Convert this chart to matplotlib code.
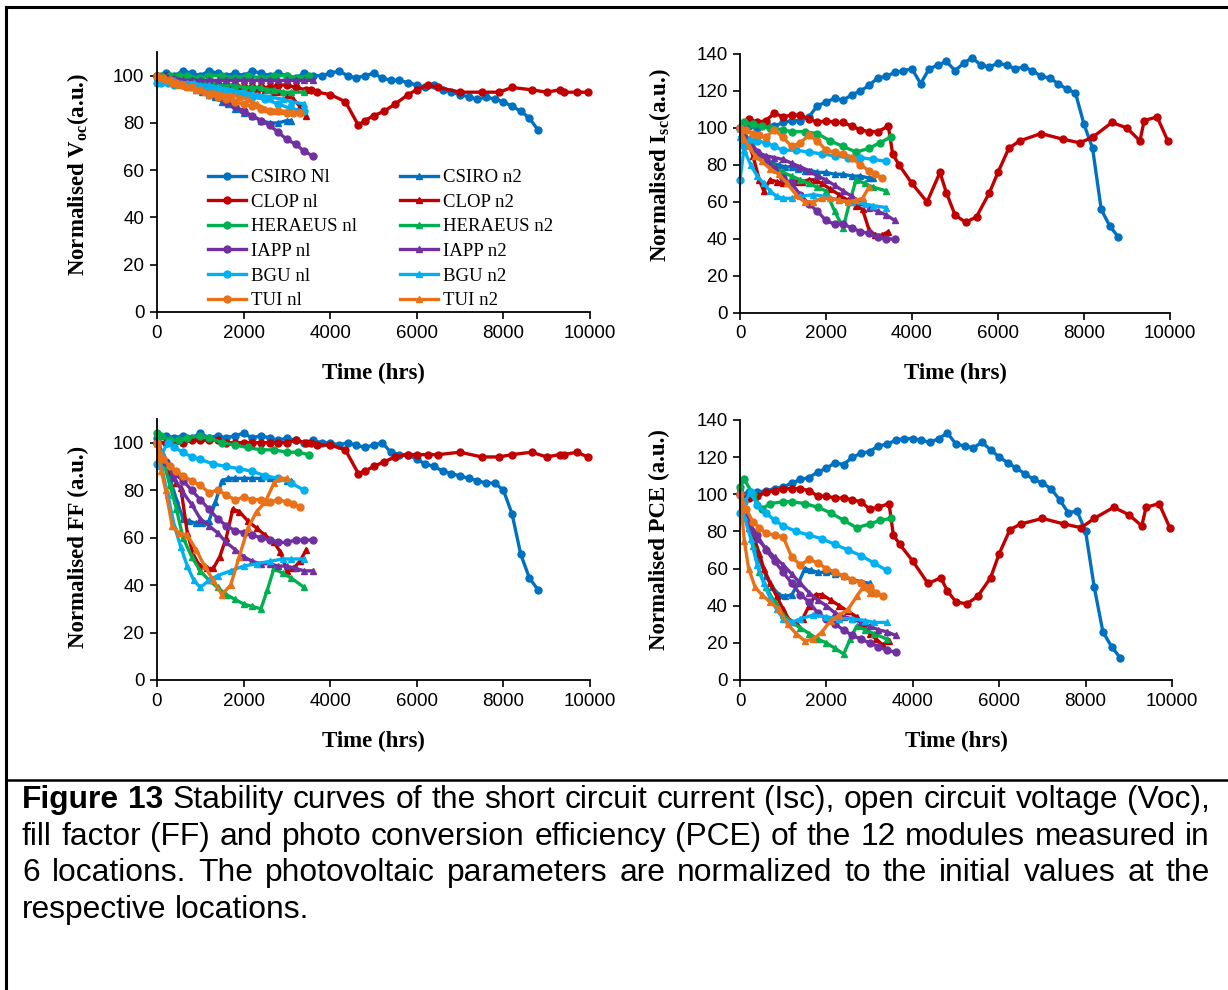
import matplotlib
matplotlib.use('Agg')
import matplotlib.pyplot as plt
from matplotlib.lines import Line2D

plt.rcParams['mathtext.fontset'] = 'custom'
plt.rcParams['mathtext.rm'] = 'Liberation Serif'
plt.rcParams['mathtext.bf'] = 'Liberation Serif:bold'

# ---- modules (legend order) ----
modules = ['CSIRO', 'CLOP', 'HERAEUS', 'IAPP', 'BGU', 'TUI']
colors = ['#0070C0', '#C00000', '#00B050', '#7030A0', '#00B0F0', '#E8711A']
labels_n1 = ['CSIRO Nl', 'CLOP nl', 'HERAEUS nl', 'IAPP nl', 'BGU nl', 'TUI nl']
labels_n2 = ['CSIRO n2', 'CLOP n2', 'HERAEUS n2', 'IAPP n2', 'BGU n2', 'TUI n2']

# ---- measurement times (hrs) ----
t_csiro_n1 = [0, 200, 400, 600, 800, 1000, 1200, 1400, 1600, 1800,
              2000, 2200, 2400, 2600, 2800, 3000, 3200, 3400, 3600, 3800,
              4000, 4200, 4400, 4600, 4800, 5000, 5200, 5400, 5600, 5800,
              6000, 6200, 6400, 6600, 6800, 7000, 7200, 7400, 7600, 7800,
              8000, 8200, 8400, 8600, 8800]
t_csiro_n2 = [0, 150, 300, 450, 600, 750, 900, 1050, 1200, 1350,
              1500, 1650, 1800, 2000, 2200, 2400, 2600, 2800, 3000, 3100]
t_clop_n1 = [0, 200, 400, 600, 800, 1000, 1200, 1400, 1600, 1800,
             2000, 2200, 2400, 2600, 2800, 3000, 3200, 3450, 3550, 3700,
             4000, 4350, 4650, 4800, 5000, 5250, 5500, 5800, 6000, 6250,
             6500, 7000, 7500, 7900, 8200, 8650, 9000, 9300, 9400, 9700,
             9950]
t_clop_n2 = [0, 150, 300, 450, 550, 700, 850, 1000, 1150, 1300, 1450, 1600,
             1750, 1900, 2100, 2300, 2500, 2700, 2850, 3000, 3150, 3300, 3450]
t_her_n1 = [0, 100, 300, 500, 700, 1000, 1200, 1500, 1800, 2100, 2400, 2700,
            3000, 3250, 3500]
t_her_n2 = [0, 150, 300, 450, 600, 800, 1000, 1200, 1400, 1600, 1800, 2000,
            2200, 2400, 2550, 2700, 2900, 3100, 3400]
t_iapp_n1 = [0, 200, 400, 600, 800, 1000, 1200, 1400, 1600, 1800, 2000, 2200,
             2400, 2600, 2800, 3000, 3200, 3400, 3600]
t_iapp_n2 = [0, 200, 400, 600, 800, 1000, 1200, 1400, 1600, 1800, 2000, 2200,
             2400, 2600, 2800, 3000, 3200, 3400, 3600]
t_bgu_n1 = [0, 100, 250, 400, 600, 800, 1000, 1300, 1600, 1900, 2200, 2500,
            2800, 3100, 3400]
t_bgu_n2 = [0, 100, 250, 400, 550, 700, 850, 1000, 1200, 1400, 1700, 2000,
            2300, 2600, 2900, 3100, 3400]
t_tui_n1 = [0, 150, 300, 450, 600, 800, 1000, 1200, 1400, 1600, 1800, 2000,
            2200, 2400, 2600, 2800, 3000, 3150, 3300]
t_tui_n2 = [0, 100, 200, 350, 500, 700, 900, 1100, 1300, 1500, 1700, 1900,
            2100, 2300, 2500, 2700, 2850, 3000]

# ---- normalised Voc ----
voc_csiro_n1 = [100, 101, 100, 102, 101, 100, 102, 101, 100, 101,
                100, 102, 101, 100, 101, 100, 99, 101, 100, 100,
                101, 102, 100, 99, 100, 101, 99, 98, 98, 97,
                96, 95, 96, 94, 93, 92, 91, 90, 91, 90,
                89, 87, 85, 82, 77]
voc_csiro_n2 = [100, 99, 98, 97, 96, 95, 94, 93, 92, 91, 89, 88, 86, 84, 83, 81, 80, 80, 81, 81]
voc_clop_n1 = [100, 100, 99, 99, 98, 97, 97, 96, 96, 96,
               95, 95, 95, 95, 96, 96, 95, 94, 94, 93,
               92, 89, 79, 81, 83, 85, 88, 92, 94, 96,
               95, 93, 93, 93, 95, 94, 93, 94, 93, 93,
               93]
voc_clop_n2 = [100, 99, 98, 98, 97, 97, 96, 96, 96, 96, 95, 95, 95, 95, 94, 94, 94, 93, 93, 92, 90, 87, 83]
voc_her_n1 = [100, 100, 100, 100, 100, 99, 100, 100, 99, 100, 99, 100, 100, 99, 100]
voc_her_n2 = [100, 99, 99, 98, 98, 97, 97, 97, 96, 96, 96, 95, 95, 95, 94, 94, 93, 93, 93]
voc_iapp_n1 = [100, 99, 98, 97, 96, 95, 93, 91, 89, 87, 85, 83, 81, 79, 76, 73, 71, 68, 66]
voc_iapp_n2 = [100, 99, 99, 98, 98, 98, 98, 98, 98, 98, 98, 98, 98, 98, 98, 98, 98, 98, 98]
voc_bgu_n1 = [97, 97, 97, 96, 96, 96, 95, 94, 93, 92, 91, 90, 88, 86, 85]
voc_bgu_n2 = [99, 99, 98, 98, 97, 97, 97, 96, 96, 95, 94, 93, 92, 91, 90, 89, 88]
voc_tui_n1 = [100, 99, 98, 97, 96, 95, 94, 92, 91, 90, 89, 88, 87, 86, 85, 85, 84, 84, 84]
voc_tui_n2 = [100, 99, 98, 97, 96, 95, 94, 93, 93, 92, 92, 91, 90, 88, 86, 85, 85, 85]

# ---- normalised Isc ----
isc_csiro_n1 = [100, 101, 100, 102, 101, 103, 104, 104, 106, 112,
                114, 116, 115, 118, 120, 123, 127, 128, 130, 131,
                132, 124, 132, 134, 136, 131, 135, 138, 134, 133,
                135, 134, 132, 133, 131, 128, 127, 124, 121, 119,
                102, 89, 56, 47, 41]
isc_csiro_n2 = [100, 95, 90, 86, 83, 81, 80, 79, 79, 78, 77, 77, 76, 76, 75, 75, 74, 74, 73, 73]
isc_clop_n1 = [100, 105, 103, 104, 108, 106, 107, 107, 105, 103,
               104, 103, 103, 101, 99, 98, 98, 101, 86, 80,
               70, 60, 76, 65, 53, 49, 52, 65, 76, 89,
               93, 97, 94, 92, 95, 103, 100, 93, 104, 106,
               93]
isc_clop_n2 = [100, 95, 85, 72, 66, 72, 71, 70, 70, 71, 71, 72, 72, 70, 67, 64, 61, 58, 56, 45, 42, 42, 44]
isc_her_n1 = [100, 103, 102, 101, 100, 99, 98, 98, 97, 93, 90, 87, 89, 92, 95]
isc_her_n2 = [100, 95, 90, 85, 82, 79, 76, 74, 72, 70, 68, 66, 55, 46, 60, 72, 70, 68, 66]
isc_iapp_n1 = [100, 93, 87, 83, 78, 73, 70, 64, 59, 55, 50, 48, 48, 46, 44, 43, 41, 40, 40]
isc_iapp_n2 = [100, 92, 87, 85, 84, 83, 81, 79, 77, 74, 72, 69, 66, 63, 60, 57, 55, 53, 50]
isc_bgu_n1 = [72, 90, 94, 93, 92, 90, 88, 88, 87, 86, 85, 84, 84, 83, 82]
isc_bgu_n2 = [95, 88, 80, 74, 70, 66, 63, 62, 62, 63, 64, 63, 61, 60, 59, 58, 57]
isc_tui_n1 = [100, 99, 97, 96, 95, 99, 95, 90, 92, 96, 93, 88, 87, 86, 84, 80, 77, 75, 73]
isc_tui_n2 = [100, 94, 90, 85, 82, 78, 75, 70, 64, 60, 60, 62, 62, 61, 60, 61, 62, 68]

# ---- normalised FF ----
ff_csiro_n1 = [102, 103, 102, 103, 102, 104, 102, 103, 102, 103,
               104, 102, 103, 102, 101, 102, 101, 100, 101, 100,
               100, 99, 100, 99, 98, 99, 100, 96, 95, 95,
               93, 91, 90, 88, 87, 86, 85, 84, 83, 83,
               80, 70, 53, 43, 38]
ff_csiro_n2 = [100, 92, 85, 76, 68, 67, 66, 66, 67, 75, 84, 85, 85, 85, 85, 85, 85, 85, 84, 84]
ff_clop_n1 = [100, 100, 100, 100, 101, 101, 101, 101, 100, 100,
              100, 100, 100, 100, 100, 100, 101, 100, 100, 99,
              99, 97, 87, 88, 90, 92, 94, 95, 95, 95,
              95, 96, 94, 94, 95, 96, 94, 95, 95, 96,
              94]
ff_clop_n2 = [100, 95, 88, 83, 81, 62, 52, 48, 47, 47, 52, 60, 72, 71, 67, 64, 61, 58, 54, 46, 47, 50, 55]
ff_her_n1 = [104, 103, 101, 101, 102, 103, 102, 100, 99, 98, 97, 97, 96, 96, 95]
ff_her_n2 = [104, 92, 82, 72, 60, 52, 46, 42, 39, 36, 34, 32, 31, 30, 38, 47, 45, 43, 39]
ff_iapp_n1 = [100, 92, 87, 84, 80, 76, 72, 68, 65, 63, 62, 61, 60, 59, 58, 58, 59, 59, 59]
ff_iapp_n2 = [100, 92, 85, 79, 74, 68, 65, 62, 58, 55, 52, 50, 49, 49, 48, 48, 47, 46, 46]
ff_bgu_n1 = [91, 95, 100, 98, 96, 94, 93, 91, 90, 89, 88, 86, 85, 83, 80]
ff_bgu_n2 = [100, 90, 78, 65, 56, 48, 42, 39, 42, 44, 46, 48, 49, 50, 51, 51, 51]
ff_tui_n1 = [100, 93, 90, 88, 86, 84, 82, 79, 80, 78, 76, 77, 76, 76, 75, 76, 75, 74, 73]
ff_tui_n2 = [100, 88, 80, 65, 62, 61, 55, 48, 42, 36, 40, 52, 64, 71, 75, 83, 85, 85]

# ---- normalised PCE ----
pce_csiro_n1 = [100, 101, 101, 102, 103, 104, 106, 108, 109, 112,
                114, 117, 116, 120, 122, 123, 126, 127, 129, 130,
                130, 129, 128, 130, 133, 127, 126, 125, 128, 124,
                120, 117, 114, 111, 108, 106, 103, 97, 90, 91,
                80, 50, 26, 18, 12]
pce_csiro_n2 = [100, 88, 76, 65, 56, 50, 46, 45, 46, 52, 60, 59, 58, 58, 57, 56, 54, 53, 52, 47]
pce_clop_n1 = [100, 98, 99, 101, 102, 103, 103, 103, 102, 99,
               99, 98, 98, 97, 96, 92, 93, 95, 78, 73,
               64, 52, 55, 48, 42, 41, 45, 55, 68, 81,
               84, 87, 84, 82, 87, 93, 89, 83, 93, 95,
               82]
pce_clop_n2 = [100, 90, 78, 68, 60, 52, 45, 38, 32, 31, 33, 40, 46, 46, 43, 40, 37, 34, 30, 25, 22, 19, 21]
pce_her_n1 = [104, 108, 100, 92, 95, 96, 96, 95, 93, 90, 86, 82, 84, 86, 87]
pce_her_n2 = [104, 88, 72, 58, 50, 42, 35, 31, 28, 25, 22, 20, 17, 14, 22, 29, 27, 25, 22]
pce_iapp_n1 = [100, 85, 78, 70, 64, 58, 52, 46, 42, 36, 33, 30, 27, 24, 22, 20, 18, 16, 15]
pce_iapp_n2 = [100, 82, 76, 71, 66, 62, 57, 52, 47, 43, 40, 36, 34, 33, 31, 29, 27, 26, 24]
pce_bgu_n1 = [90, 96, 101, 94, 90, 86, 83, 80, 78, 76, 73, 70, 67, 63, 59]
pce_bgu_n2 = [100, 88, 76, 62, 52, 44, 38, 33, 31, 33, 35, 34, 33, 33, 32, 31, 31]
pce_tui_n1 = [100, 92, 85, 82, 79, 78, 77, 66, 62, 65, 63, 60, 58, 56, 54, 52, 50, 47, 45]
pce_tui_n2 = [100, 75, 60, 50, 46, 42, 38, 30, 25, 21, 22, 26, 32, 35, 38, 45, 50, 47]

x_ticks = [0, 2000, 4000, 6000, 8000, 10000]

times_n1 = [t_csiro_n1, t_clop_n1, t_her_n1, t_iapp_n1, t_bgu_n1, t_tui_n1]
times_n2 = [t_csiro_n2, t_clop_n2, t_her_n2, t_iapp_n2, t_bgu_n2, t_tui_n2]

panels = [
    ('Normalised V$_{\\mathbf{oc}}$(a.u.)', 110, [0, 20, 40, 60, 80, 100],
     [voc_csiro_n1, voc_clop_n1, voc_her_n1, voc_iapp_n1, voc_bgu_n1, voc_tui_n1],
     [voc_csiro_n2, voc_clop_n2, voc_her_n2, voc_iapp_n2, voc_bgu_n2, voc_tui_n2]),
    ('Normalised I$_{\\mathbf{sc}}$(a.u.)', 140, [0, 20, 40, 60, 80, 100, 120, 140],
     [isc_csiro_n1, isc_clop_n1, isc_her_n1, isc_iapp_n1, isc_bgu_n1, isc_tui_n1],
     [isc_csiro_n2, isc_clop_n2, isc_her_n2, isc_iapp_n2, isc_bgu_n2, isc_tui_n2]),
    ('Normalised FF (a.u.)', 110, [0, 20, 40, 60, 80, 100],
     [ff_csiro_n1, ff_clop_n1, ff_her_n1, ff_iapp_n1, ff_bgu_n1, ff_tui_n1],
     [ff_csiro_n2, ff_clop_n2, ff_her_n2, ff_iapp_n2, ff_bgu_n2, ff_tui_n2]),
    ('Normalised PCE (a.u.)', 140, [0, 20, 40, 60, 80, 100, 120, 140],
     [pce_csiro_n1, pce_clop_n1, pce_her_n1, pce_iapp_n1, pce_bgu_n1, pce_tui_n1],
     [pce_csiro_n2, pce_clop_n2, pce_her_n2, pce_iapp_n2, pce_bgu_n2, pce_tui_n2]),
]

W, H = 1228, 990
fig = plt.figure(figsize=(W / 100, H / 100), dpi=100)

# axes rectangles in pixels: left, right, bottom, top
boxes = [(157, 590, 312, 52), (740, 1170, 313, 54),
         (157, 590, 680, 419), (740, 1172, 680, 420)]
ylab_x = [-0.182, -0.186, -0.182, -0.186]
ylab_y = [0.53, 0.57, 0.51, 0.54]

serif = 'Liberation Serif'
sans = 'Liberation Sans'

for k, (ylabel, ytop, yticks, vals_n1, vals_n2) in enumerate(panels):
    l, r, b, t = boxes[k]
    ax = fig.add_axes([l / W, 1 - b / H, (r - l) / W, (b - t) / H])
    handles_n1, handles_n2 = [], []
    for i in range(len(modules)):
        h1, = ax.plot(times_n1[i], vals_n1[i], color=colors[i], marker='o', ms=5,
                      lw=2.4, clip_on=False, label=labels_n1[i])
        h2, = ax.plot(times_n2[i], vals_n2[i], color=colors[i], marker='^', ms=5,
                      lw=2.4, clip_on=False, label=labels_n2[i])
        handles_n1.append(h1)
        handles_n2.append(h2)
    ax.set_xlim(0, 10000)
    ax.set_ylim(0, ytop)
    ax.set_xticks(x_ticks)
    ax.set_yticks(yticks)
    for s in ['top', 'right']:
        ax.spines[s].set_visible(False)
    for s in ['left', 'bottom']:
        ax.spines[s].set_linewidth(1.3)
    ax.tick_params(direction='out', length=5, width=1.2, labelsize=13.5, pad=4)
    for lab in ax.get_xticklabels() + ax.get_yticklabels():
        lab.set_family(sans)
    ax.set_xlabel('Time (hrs)', family=serif, fontweight='bold', fontsize=16.5)
    ax.xaxis.set_label_coords(0.5, -0.235)
    ax.xaxis.label.set_va('center')
    ax.set_ylabel(ylabel, family=serif, fontweight='bold', fontsize=16.5)
    ax.yaxis.set_label_coords(ylab_x[k], ylab_y[k])
    ax.yaxis.label.set_va('center')
    if k == 0:
        ax.legend(handles_n1 + handles_n2, labels_n1 + labels_n2, ncol=2,
                  loc='upper left', bbox_to_anchor=(0.118, 0.55), frameon=False,
                  prop={'family': serif, 'size': 13.5}, handlelength=2.0,
                  handletextpad=0.3, labelspacing=0.4, columnspacing=2.3,
                  borderpad=0, borderaxespad=0)

# frame lines around the figure block and separator above the caption
fig.add_artist(Line2D([6 / W, 1], [1 - 7 / H, 1 - 7 / H], color='black', lw=2.2,
                      transform=fig.transFigure))
fig.add_artist(Line2D([6 / W, 6 / W], [0, 1 - 7 / H], color='black', lw=2.2,
                      transform=fig.transFigure))
fig.add_artist(Line2D([6 / W, 1], [1 - 780 / H, 1 - 780 / H], color='black', lw=1.8,
                      transform=fig.transFigure))

# caption, justified like the source document
cap_lines = [
    [('Figure', 'bold'), ('13', 'bold')] + [(w, 'normal') for w in
        'Stability curves of the short circuit current (Isc), open circuit voltage (Voc),'.split()],
    [(w, 'normal') for w in
        'fill factor (FF) and photo conversion efficiency (PCE) of the 12 modules measured in'.split()],
    [(w, 'normal') for w in
        '6 locations. The photovoltaic parameters are normalized to the initial values at the'.split()],
    [(w, 'normal') for w in 'respective locations.'.split()],
]
cap_y = [800, 837, 873, 910]
x0, x1 = 22, 1210
renderer = fig.canvas.get_renderer()

# pick the caption size so that the first line fills the width with normal spaces
probe = 20
tmp = [fig.text(0, 0, w, fontsize=probe, fontweight=wt, family=sans) for w, wt in cap_lines[0]]
natural = sum(tx.get_window_extent(renderer).width for tx in tmp)
natural += (len(tmp) - 1) * 0.278 * probe * 100 / 72
for tx in tmp:
    tx.remove()
cap_size = probe * (x1 - x0) / natural * 0.995

for n, words in enumerate(cap_lines):
    txts = [fig.text(0, 1 - cap_y[n] / H, w, fontsize=cap_size, fontweight=wt,
                     family=sans, va='center', ha='left') for w, wt in words]
    widths = [tx.get_window_extent(renderer).width for tx in txts]
    if n < 3:
        gap = (x1 - x0 - sum(widths)) / (len(txts) - 1)
    else:
        gap = cap_size * 0.278 * 100 / 72
    x = x0
    for tx, wd in zip(txts, widths):
        tx.set_x(x / W)
        x += wd + gap

fig.savefig('out.png', dpi=100)
